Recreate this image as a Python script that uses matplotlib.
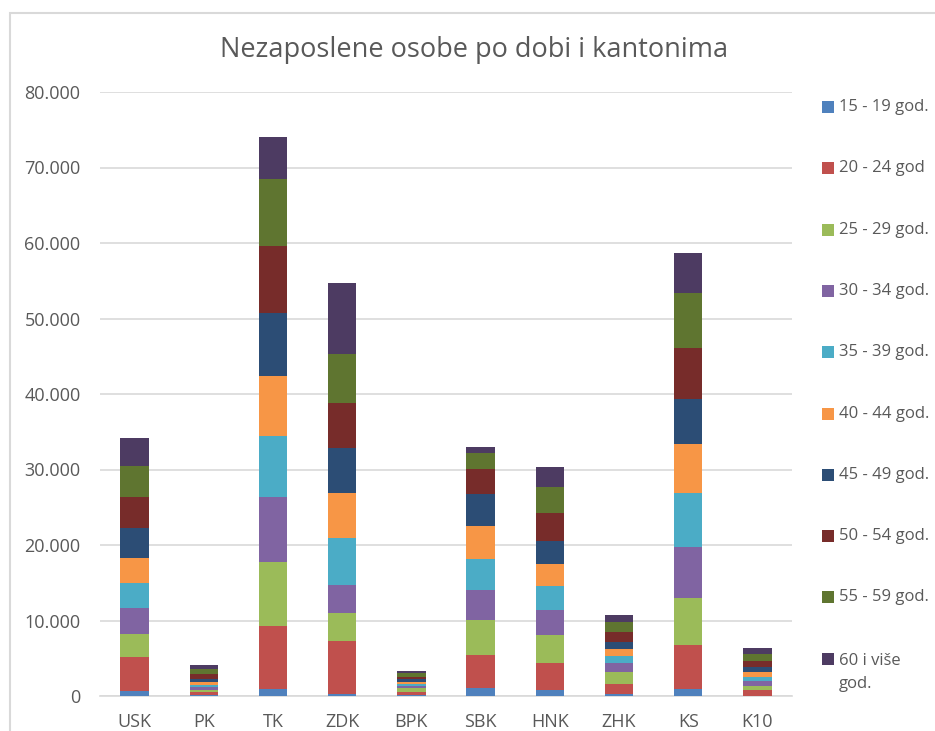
import matplotlib
matplotlib.use("Agg")
import matplotlib.pyplot as plt
from matplotlib.patches import Rectangle
from matplotlib.ticker import FuncFormatter
import numpy as np

plt.rcParams['font.family'] = ['Open Sans', 'DejaVu Sans']

cantons = ["USK", "PK", "TK", "ZDK", "BPK", "SBK", "HNK", "ZHK", "KS", "K10"]
age_groups = ["15 - 19 god.", "20 - 24 god", "25 - 29 god.", "30 - 34 god.", "35 - 39 god.",
              "40 - 44 god.", "45 - 49 god.", "50 - 54 god.", "55 - 59 god.", "60 i više\ngod."]

a15_19 = [650, 100, 930, 260, 100, 1100, 790, 200, 930, 50]
a20_24 = [4480, 440, 8340, 6980, 440, 4330, 3540, 1350, 5820, 700]
a25_29 = [3080, 320, 8480, 3710, 530, 4640, 3710, 1590, 6230, 620]
a30_34 = [3490, 350, 8570, 3790, 320, 3930, 3350, 1270, 6710, 570]
a35_39 = [3310, 220, 8120, 6230, 220, 4190, 3220, 890, 7200, 570]
a40_44 = [3320, 400, 7940, 5920, 220, 4330, 2870, 890, 6530, 620]
a45_49 = [3970, 400, 8390, 5960, 400, 4230, 3050, 1000, 5920, 660]
a50_54 = [4030, 620, 8870, 5920, 300, 3280, 3670, 1290, 6790, 880]
a55_59 = [4180, 660, 8800, 6530, 530, 2200, 3520, 1320, 7290, 880]
a60_plus = [3630, 660, 5560, 9360, 220, 710, 2650, 890, 5220, 840]

series = [a15_19, a20_24, a25_29, a30_34, a35_39, a40_44, a45_49, a50_54, a55_59, a60_plus]
colors = ["#4F81BD", "#C0504D", "#9BBB59", "#8064A2", "#4BACC6",
          "#F79646", "#2C4D75", "#772C2A", "#5F7530", "#4D3B62"]

W, H = 935, 731
fig = plt.figure(figsize=(W / 100, H / 100), dpi=100)
ax = fig.add_axes([100 / W, 1 - 696 / H, (792 - 100) / W, (696 - 92) / H])

x = np.arange(len(cantons))
bottom = np.zeros(len(cantons))
for vals, col, lab in zip(series, colors, age_groups):
    v = np.array(vals, dtype=float)
    ax.bar(x, v, width=0.41, bottom=bottom, color=col, edgecolor='none', label=lab, zorder=3)
    bottom += v

ax.set_xlim(-0.5, len(cantons) - 0.5)
ax.set_ylim(0, 80000)
ax.set_yticks(np.arange(0, 80001, 10000))
ax.yaxis.set_major_formatter(FuncFormatter(lambda v, p: f"{int(v):,}".replace(",", ".")))
ax.set_xticks(x)
ax.set_xticklabels(cantons)
ax.grid(axis='y', color='#d9d9d9', linewidth=1.2, zorder=0)
for s in ['top', 'right', 'left']:
    ax.spines[s].set_visible(False)
ax.spines['bottom'].set_color('#d9d9d9')
ax.spines['bottom'].set_linewidth(1.2)
ax.tick_params(axis='both', length=0, colors='#595959', labelsize=13)
ax.tick_params(axis='y', pad=14)
ax.tick_params(axis='x', pad=12)

fig.text(474 / W, 1 - 50 / H, "Nezaposlene osobe po dobi i kantonima", ha='center', va='center',
         fontsize=19.5, color='#595959')

# chart border
fig.patches.append(Rectangle((10 / W, -0.1), 1.2, 1 - 13 / H + 0.1, transform=fig.transFigure,
                             fill=False, edgecolor='#d9d9d9', linewidth=1.5))

# legend
y0 = 107
for i, (lab, col) in enumerate(zip(age_groups, colors)):
    yc = y0 + i * 61.3
    fig.patches.append(Rectangle((822 / W, 1 - (yc + 6) / H), 12 / W, 12 / H,
                                 transform=fig.transFigure, facecolor=col, edgecolor='none'))
    offset = 14 if '\n' in lab else 0
    fig.text(839 / W, 1 - (yc + offset) / H, lab, ha='left', va='center',
             fontsize=12, color='#595959', linespacing=1.55)

fig.savefig("out.png", dpi=100)
